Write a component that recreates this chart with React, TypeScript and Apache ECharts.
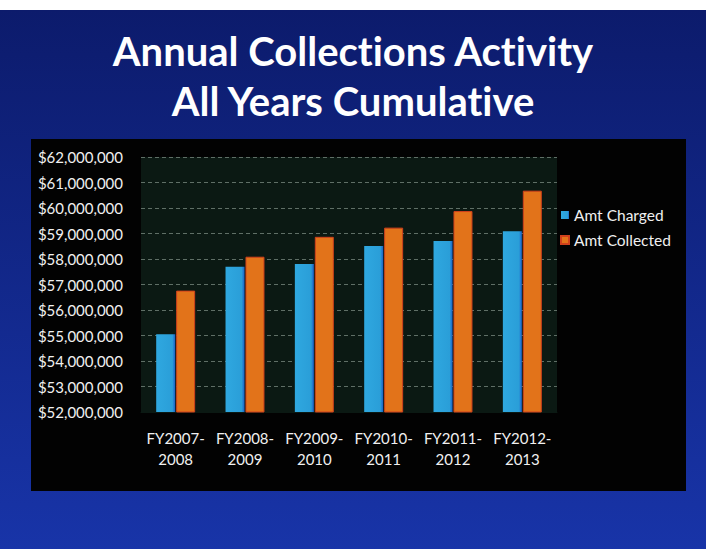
import React, { useEffect, useRef } from "react";
import * as echarts from "echarts";

const categories = ["FY2007-\n2008", "FY2008-\n2009", "FY2009-\n2010", "FY2010-\n2011", "FY2011-\n2012", "FY2012-\n2013"];
const amtCharged = [55050000, 57700000, 57800000, 58510000, 58710000, 59090000];
const amtCollected = [56760000, 58090000, 58870000, 59230000, 59880000, 60680000];
const seriesNames = ["Amt Charged", "Amt Collected"];
const titleLines = ["Annual Collections Activity", "All Years Cumulative"];

const FONT = "Lato, 'Open Sans', sans-serif";

export default function App() {
  const ref = useRef<HTMLDivElement>(null);
  useEffect(() => {
    if (!ref.current) return;
    const chart = echarts.init(ref.current, null, { renderer: "svg" });
    chart.setOption({
      animation: false,
      backgroundColor: "#ffffff",
      graphic: [
        {
          type: "rect",
          z: -10,
          shape: { x: 0, y: 10, width: 706, height: 539 },
          style: {
            fill: new echarts.graphic.LinearGradient(0, 0, 0, 1, [
              { offset: 0, color: "#0c1b6c" },
              { offset: 1, color: "#1834a8" },
            ]),
          },
        },
        {
          type: "rect",
          z: -9,
          shape: { x: 31, y: 139, width: 655, height: 352 },
          style: { fill: "#020202" },
        },
      ],
      title: {
        text: titleLines.join("\n"),
        left: "center",
        top: 21,
        textStyle: {
          color: "#ffffff",
          fontFamily: FONT,
          fontWeight: "bold",
          fontSize: 40,
          lineHeight: 50,
        },
      },
      legend: {
        orient: "vertical",
        left: 555,
        top: 202,
        itemWidth: 8,
        itemHeight: 8,
        itemGap: 9,
        icon: "rect",
        data: seriesNames,
        textStyle: { color: "#f0f0f0", fontFamily: FONT, fontSize: 15.5 },
      },
      grid: {
        left: 141,
        right: 149,
        top: 157,
        bottom: 137,
        show: true,
        backgroundColor: "#0b1913",
        borderWidth: 0,
      },
      xAxis: {
        type: "category",
        data: categories,
        axisLine: { show: true, lineStyle: { color: "#0b1913" } },
        axisTick: { show: false },
        axisLabel: {
          interval: 0,
          color: "#f0f0f0",
          fontFamily: FONT,
          fontSize: 15,
          lineHeight: 21,
          margin: 15,
        },
      },
      yAxis: {
        type: "value",
        min: 52000000,
        max: 62000000,
        interval: 1000000,
        axisLine: { show: false },
        axisTick: { show: false },
        splitLine: { lineStyle: { color: "#5f6f66", type: [4, 3], width: 1 } },
        axisLabel: {
          color: "#f0f0f0",
          fontFamily: FONT,
          fontSize: 15,
          margin: 18,
          formatter: (v: number) => "$" + v.toLocaleString("en-US"),
        },
      },
      series: [
        {
          name: seriesNames[0],
          type: "bar",
          data: amtCharged,
          barWidth: 19,
          barGap: "5%",
          itemStyle: {
            color: new echarts.graphic.LinearGradient(0, 0, 1, 0, [
              { offset: 0, color: "#2fa8e0" },
              { offset: 0.85, color: "#2a9ed8" },
              { offset: 1, color: "#1d5fc8" },
            ]),
          },
        },
        {
          name: seriesNames[1],
          type: "bar",
          data: amtCollected,
          barWidth: 19,
          itemStyle: {
            color: "#e2731a",
            borderColor: "#d0401c",
            borderWidth: 1,
          },
        },
      ],
    });
    return () => chart.dispose();
  }, []);
  return (
    <div
      ref={ref}
      style={{
        position: "fixed",
        left: 0,
        top: 0,
        width: 706,
        height: 549,
        fontVariantLigatures: "none",
      }}
    />
  );
}
